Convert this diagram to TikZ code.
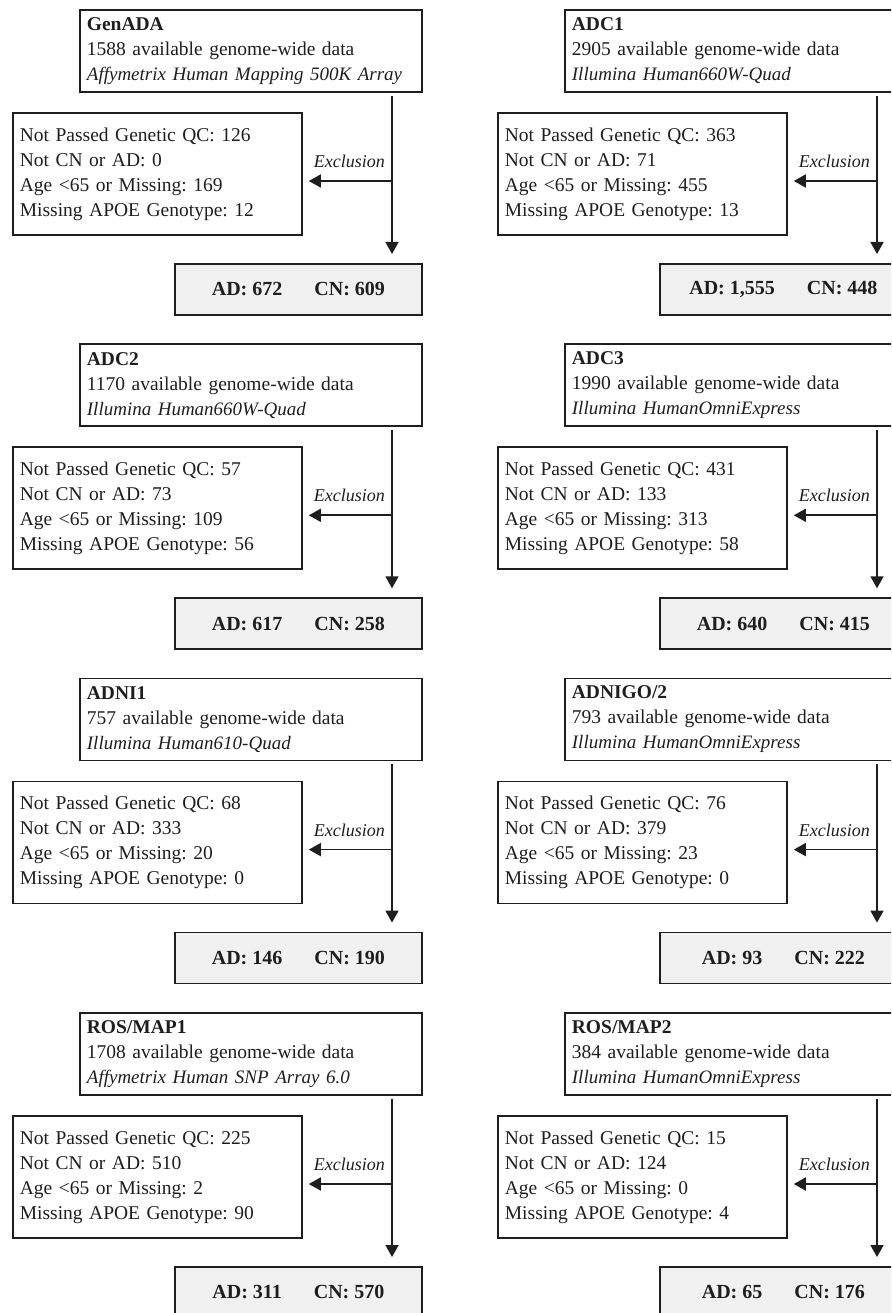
\documentclass[tikz,border=0pt]{standalone}
\usepackage{fontspec}
\setmainfont{Liberation Serif}
\usetikzlibrary{arrows.meta,positioning}
\definecolor{inkcol}{RGB}{30,30,30}
\definecolor{resfill}{RGB}{240,240,240}
\frenchspacing

\begin{document}
\begin{tikzpicture}[
  x=1pt, y=-1pt,
  srcbox/.style={draw=inkcol, line width=1.8pt, anchor=north west,
                 text width=328pt, inner xsep=7pt, inner ysep=0pt,
                 minimum height=82pt, align=left, text=inkcol,
                 font=\fontsize{19.5}{25}\selectfont},
  exclbox/.style={srcbox, text width=275pt, minimum height=122pt},
  resbox/.style={draw=inkcol, line width=1.8pt, fill=resfill, anchor=north west,
                 minimum width=247pt, minimum height=51pt, inner sep=0pt,
                 text=inkcol, font=\fontsize{20}{25}\selectfont\bfseries},
  exlabel/.style={font=\fontsize{18}{20}\selectfont\itshape, inner sep=0pt,
                  text=inkcol},
  flow/.style={draw=inkcol, line width=1.7pt,
               -{Triangle[width=13pt,length=12pt]}},
]
  \useasboundingbox (0,0) rectangle (891,1313);
  \clip (0,0) rectangle (891,1313);

  % one panel per cohort: column offset / row offset / data
  \foreach \cx/\cy/\cohort/\total/\chip/\qc/\nocn/\age/\apoe/\nad/\ncn [count=\i] in {
      0/0/GenADA/1588/Affymetrix Human Mapping 500K Array/126/0/169/12/672/609,
      485/0/ADC1/2905/Illumina Human660W-Quad/363/71/455/13/{1,555}/448,
      0/334.3/ADC2/1170/Illumina Human660W-Quad/57/73/109/56/617/258,
      485/334.3/ADC3/1990/Illumina HumanOmniExpress/431/133/313/58/640/415,
      0/668.6/ADNI1/757/Illumina Human610-Quad/68/333/20/0/146/190,
      485/668.6/{ADNIGO/2}/793/Illumina HumanOmniExpress/76/379/23/0/93/222,
      0/1003/{ROS/MAP1}/1708/Affymetrix Human SNP Array 6.0/225/510/2/90/311/570,
      485/1003/{ROS/MAP2}/384/Illumina HumanOmniExpress/15/124/0/4/65/176} {
    % source data set
    \node[srcbox] (src\i) at ({79+\cx},{9+\cy})
      {\textbf{\cohort}\\ \total{} available genome-wide data\\
       \mbox{\fontsize{19}{25}\selectfont\itshape\chip}};
    % excluded samples
    \node[exclbox] (excl\i) at ({12+\cx},{112+\cy})
      {Not Passed Genetic QC: \qc\\ Not CN or AD: \nocn\\
       Age <65 or Missing: \age\\ Missing APOE Genotype: \apoe};
    % final sample
    \node[resbox] (res\i) at ({174+\cx},{263+\cy})
      {AD: \nad\hspace{1.6em}CN: \ncn};

    \coordinate (split\i) at ({392+\cx},{181+\cy});
    \draw[flow, shorten <=3pt, shorten >=9pt]
      (src\i.south -| split\i) -- (res\i.north -| split\i);
    \draw[flow, shorten >=6pt] (split\i) -- (split\i -| excl\i.east);
    \node[exlabel, above left=13pt and 7pt of split\i] (exlab\i) {Exclusion};
  }
\end{tikzpicture}
\end{document}
